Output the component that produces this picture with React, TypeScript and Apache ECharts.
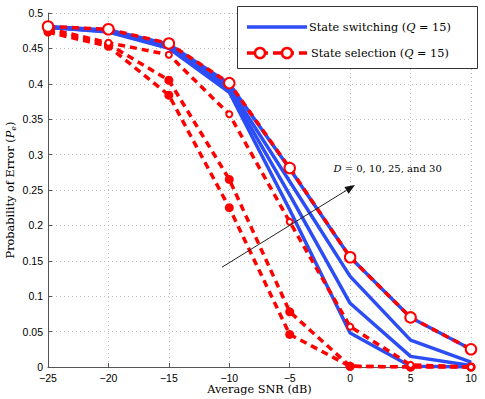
import React, { useEffect, useRef } from "react";
import * as echarts from "echarts";

const snr = [-25, -20, -15, -10, -5, 0, 5, 10];
const xTicks = { min: -25, max: 10, interval: 5 };
const yTicks = { min: 0, max: 0.5, interval: 0.05 };

// State switching (Q = 15), D = 0, 10, 25, 30
const switchD0 = [0.48, 0.473, 0.45, 0.388, 0.222, 0.048, 0.001, 0.0];
const switchD10 = [0.48, 0.474, 0.451, 0.391, 0.243, 0.09, 0.015, 0.002];
const switchD25 = [0.48, 0.475, 0.453, 0.395, 0.262, 0.128, 0.038, 0.007];
const switchD30 = [0.481, 0.476, 0.456, 0.4, 0.28, 0.155, 0.07, 0.025];

// State selection (Q = 15), D = 0, 10, 25, 30
const selD0 = [0.473, 0.453, 0.384, 0.225, 0.046, 0.001, 0.0, 0.0];
const selD10 = [0.475, 0.456, 0.405, 0.265, 0.078, 0.001, 0.0, 0.0];
const selD25 = [0.478, 0.458, 0.441, 0.357, 0.205, 0.057, 0.003, 0.0];
const selD30 = [0.481, 0.477, 0.457, 0.401, 0.281, 0.155, 0.07, 0.025];

const legendNames = ["State switching", "State selection"];
// annotation arrow in data coordinates [SNR, Pe]
const arrowFrom = [-10.6, 0.141];
const arrowTo = [0.4, 0.257];
const labelAt = [3.1, 0.281];

const BLUE = "#2c4df6";
const RED = "#ff0000";
const SERIF = "'DejaVu Serif', 'Liberation Serif', serif";
const SANS = "'Liberation Sans', Arial, sans-serif";
const FS = 11.3;

const pairs = (ys: number[]) => snr.map((x, i) => [x, ys[i]]);

export default function App() {
  const ref = useRef<HTMLDivElement>(null);
  useEffect(() => {
    if (!ref.current) return;
    const chart = echarts.init(ref.current, undefined, { renderer: "svg" });
    const blueSeries = [switchD0, switchD10, switchD25, switchD30].map((d, i) => ({
      name: legendNames[0] + " D" + i,
      type: "line",
      data: pairs(d),
      symbol: "none",
      lineStyle: { color: BLUE, width: 3.5 },
      z: 2,
    }));
    const redSeries = [selD0, selD10, selD25, selD30].map((d, i) => {
      const outer = i === 3;
      const mid = i === 2;
      return {
        name: legendNames[1] + " D" + i,
        type: "line",
        data: pairs(d),
        symbol: outer || mid ? "emptyCircle" : "circle",
        symbolSize: outer ? 10.5 : mid ? 6 : 9,
        showSymbol: true,
        lineStyle: { color: RED, width: 3.5, type: [7, 5] },
        itemStyle: {
          color: RED,
          borderColor: RED,
          borderWidth: outer ? 2.5 : mid ? 3 : 0,
        },
        z: 3,
      };
    });
    const option: any = {
      animation: false,
      backgroundColor: "#fff",
      grid: { left: 48, right: 14, top: 13, bottom: 32, containLabel: false, outerBoundsMode: "none" },
      xAxis: {
        type: "value",
        ...xTicks,
        name: "Average SNR (dB)",
        nameLocation: "middle",
        nameGap: 17,
        nameMoveOverlap: false,
        nameTextStyle: { fontFamily: SERIF, fontSize: FS, color: "#000" },
        axisLine: { onZero: false, lineStyle: { color: "#555", width: 1 } },
        axisTick: { inside: true, length: 4, lineStyle: { color: "#555" } },
        axisLabel: {
          fontFamily: SANS,
          fontSize: 10.5,
          color: "#000",
          margin: 5,
          formatter: (v: number) => String(v).replace("-", "\u2212"),
        },
        splitLine: { show: true, lineStyle: { color: "#bbb", type: [1, 3] } },
      },
      yAxis: {
        type: "value",
        ...yTicks,
        name: "{n|Probability of Error (}{i|P}{s|e}{n|)}",
        nameLocation: "middle",
        nameGap: 31,
        nameRotate: 90,
        nameMoveOverlap: false,
        nameTextStyle: {
          color: "#000",
          rich: {
            n: { fontFamily: SERIF, fontSize: FS, color: "#000" },
            i: { fontFamily: SERIF, fontSize: FS, fontStyle: "italic", color: "#000" },
            s: { fontFamily: SERIF, fontSize: 8, fontStyle: "italic", color: "#000", padding: [6, 0, 0, 0] },
          },
        },
        axisLine: { show: true, onZero: false, lineStyle: { color: "#555", width: 1 } },
        axisTick: { show: true, inside: true, length: 4, lineStyle: { color: "#555" } },
        axisLabel: { fontFamily: SANS, fontSize: 10.5, color: "#000", margin: 5 },
        splitLine: { show: true, lineStyle: { color: "#bbb", type: [1, 3] } },
      },
      series: [...blueSeries, ...redSeries],
    };
    chart.setOption(option);

    const p0 = chart.convertToPixel({ gridIndex: 0 }, arrowFrom) as number[];
    const p1 = chart.convertToPixel({ gridIndex: 0 }, arrowTo) as number[];
    const pl = chart.convertToPixel({ gridIndex: 0 }, labelAt) as number[];
    const ang = Math.atan2(p1[1] - p0[1], p1[0] - p0[0]);
    const hl = 10, hw = 4;
    const base = [p1[0] - hl * Math.cos(ang), p1[1] - hl * Math.sin(ang)];
    const head = [
      [p1[0], p1[1]],
      [base[0] + hw * Math.sin(ang), base[1] - hw * Math.cos(ang)],
      [base[0] - hw * Math.sin(ang), base[1] + hw * Math.cos(ang)],
    ];
    const richLegend = {
      n: { fontFamily: SERIF, fontSize: FS, fill: "#000" },
      i: { fontFamily: SERIF, fontSize: FS, fontStyle: "italic", fill: "#000" },
    };
    chart.setOption({
      graphic: [
        {
          type: "line",
          z: 10,
          shape: { x1: p0[0], y1: p0[1], x2: base[0], y2: base[1] },
          style: { stroke: "#222", lineWidth: 1 },
        },
        { type: "polygon", z: 10, shape: { points: head }, style: { fill: "#111" } },
        {
          type: "text",
          z: 10,
          x: pl[0],
          y: pl[1],
          style: {
            text: "{i|D}{n| = 0, 10, 25, and 30}",
            align: "center",
            verticalAlign: "middle",
            rich: {
              n: { fontFamily: SERIF, fontSize: 10, fill: "#000" },
              i: { fontFamily: SERIF, fontSize: 10, fontStyle: "italic", fill: "#000" },
            },
          },
        },
        {
          type: "rect",
          z: 20,
          shape: { x: 237.5, y: 6.5, width: 240, height: 62 },
          style: { fill: "#fff", stroke: "#333", lineWidth: 1 },
        },
        {
          type: "line",
          z: 21,
          shape: { x1: 247, y1: 27, x2: 307, y2: 27 },
          style: { stroke: BLUE, lineWidth: 3.5 },
        },
        {
          type: "line",
          z: 21,
          shape: { x1: 247, y1: 53, x2: 307, y2: 53 },
          style: { stroke: RED, lineWidth: 3.5, lineDash: [8, 5] },
        },
        { type: "circle", z: 22, shape: { cx: 260, cy: 53, r: 5 }, style: { fill: "#fff", stroke: RED, lineWidth: 2.5 } },
        { type: "circle", z: 22, shape: { cx: 287, cy: 53, r: 5 }, style: { fill: "#fff", stroke: RED, lineWidth: 2.5 } },
        {
          type: "text",
          z: 22,
          x: 309,
          y: 27,
          style: { text: "{n|" + legendNames[0] + " (}{i|Q}{n| = 15)}", verticalAlign: "middle", rich: richLegend },
        },
        {
          type: "text",
          z: 22,
          x: 311,
          y: 53,
          style: { text: "{n|" + legendNames[1] + " (}{i|Q}{n| = 15)}", verticalAlign: "middle", rich: richLegend },
        },
      ],
    });
    return () => chart.dispose();
  }, []);
  return (
    <div
      ref={ref}
      style={{ position: "fixed", left: 0, top: 0, width: 485, height: 399, background: "#fff" }}
    />
  );
}
